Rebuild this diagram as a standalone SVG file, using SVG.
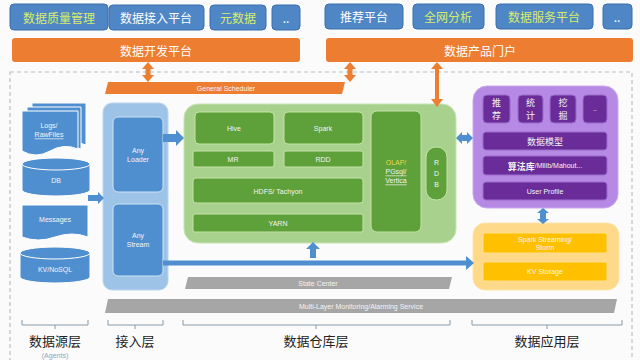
<svg xmlns="http://www.w3.org/2000/svg" width="640" height="360" viewBox="0 0 640 360">
<defs>
<style>
.btn{fill:#4f86c6;stroke:#3a6fae;stroke-width:1}
.bt{font-family:"Noto Sans CJK SC","Noto Sans",sans-serif;font-size:12px;text-anchor:middle;dominant-baseline:central}
.w{fill:#ffffff}
.yg{fill:#d8ec6a}
.org{fill:#ed7d31}
.sm{font-family:"Liberation Sans","Noto Sans",sans-serif;font-size:7px;fill:#f4f4f4;text-anchor:middle;dominant-baseline:central}
.cj{font-family:"Noto Sans CJK SC",sans-serif;font-size:9px}
.gin{fill:#5ea03a;stroke:#c5e3a8;stroke-width:1}
.pin{fill:#6a2c98;stroke:#9a6ccc;stroke-width:1}
.yin{fill:#ffc000;stroke:#ffe08a;stroke-width:1}
.src{fill:#4f8fd0;stroke:#ffffff;stroke-width:1}
.lbl{font-family:"Noto Sans CJK SC","Noto Sans",sans-serif;font-size:13px;fill:#222;text-anchor:middle;dominant-baseline:central}
.brk{fill:none;stroke:#8a9aa8;stroke-width:1}
.oarr{fill:#ed7d31}
.barr{fill:#4f8fd0}
</style>
</defs>
<rect x="0" y="0" width="640" height="360" fill="#fbfbfb"/>
<rect x="10" y="72" width="622" height="300" fill="none" stroke="#b8c0c8" stroke-width="1.2" stroke-dasharray="4,3"/>

<g id="top-buttons">
<g id="n-quality"><rect class="btn" x="10" y="4" width="98" height="26" rx="4"/><text class="bt yg" x="59" y="17">数据质量管理</text></g>
<g id="n-access-platform"><rect class="btn" x="109" y="5" width="95" height="25" rx="4"/><text class="bt w" x="156" y="17">数据接入平台</text></g>
<g id="n-meta"><rect class="btn" x="210" y="5" width="56" height="25" rx="4"/><text class="bt yg" x="238" y="17">元数据</text></g>
<g id="n-more1"><rect class="btn" x="272" y="5" width="28" height="25" rx="4"/><text class="bt w" x="286" y="17" font-size="8">..</text></g>
<g id="n-recommend"><rect class="btn" x="325" y="4" width="78" height="25" rx="4"/><text class="bt w" x="364" y="16">推荐平台</text></g>
<g id="n-analysis"><rect class="btn" x="413" y="4" width="71" height="25" rx="4"/><text class="bt yg" x="448" y="16">全网分析</text></g>
<g id="n-service"><rect class="btn" x="496" y="4" width="97" height="25" rx="4"/><text class="bt yg" x="544" y="16">数据服务平台</text></g>
<g id="n-more2"><rect class="btn" x="603" y="4" width="29" height="25" rx="4"/><text class="bt w" x="617" y="16" font-size="8">..</text></g>
</g>

<g id="n-devplatform"><rect class="org" x="12" y="38" width="288" height="24" rx="3"/><text class="bt w" x="156" y="50">数据开发平台</text></g>
<g id="n-portal"><rect class="org" x="326" y="38" width="307" height="24" rx="3"/><text class="bt w" x="480" y="50">数据产品门户</text></g>

<g id="n-scheduler"><polygon class="org" points="108,82 345,82 342,94 105,94"/><text class="sm" x="226" y="88">General Scheduler</text></g>

<g id="n-sources">
<g id="n-logs">
<path d="M32,103 h54 v42 q-14,-6 -27,0 t-27,0 z" fill="#4f8fd0" stroke="#fff" stroke-width="1"/>
<path d="M27,107 h54 v42 q-14,-6 -27,0 t-27,0 z" fill="#4f8fd0" stroke="#fff" stroke-width="1"/>
<path d="M22,111 h56 v38 q-14,-6 -28,2 t-28,0 z" fill="#4f8fd0" stroke="#fff" stroke-width="1"/>
<text class="sm" x="49" y="125">Logs/</text><text class="sm" x="49" y="134" text-decoration="underline">RawFiles</text>
</g>
<g id="n-db">
<path d="M22,164 v26 a34,6 0 0 0 68,0 v-26 z" class="src"/>
<ellipse cx="56" cy="164" rx="34" ry="6" class="src"/>
<text class="sm" x="56" y="180">DB</text>
</g>
<g id="n-messages">
<path d="M22,205 h66 v32 q-16,-6 -33,0 t-33,0 z" class="src"/>
<text class="sm" x="55" y="219">Messages</text>
</g>
<g id="n-kv">
<path d="M20,253 v24 a35,6 0 0 0 70,0 v-24 z" class="src"/>
<ellipse cx="55" cy="253" rx="35" ry="6" class="src"/>
<text class="sm" x="55" y="269">KV/NoSQL</text>
</g>
</g>

<g id="n-ingest">
<rect x="103" y="103" width="65" height="187" rx="9" fill="#9dc3e6" stroke="#b9d5ee" stroke-width="1"/>
<g id="n-anyloader"><rect x="113" y="117" width="50" height="75" rx="5" fill="#4f8fd0" stroke="#cfe2f3"/><text class="sm" x="138" y="150">Any</text><text class="sm" x="138" y="159">Loader</text></g>
<g id="n-anystream"><rect x="113" y="204" width="50" height="72" rx="5" fill="#4f8fd0" stroke="#cfe2f3"/><text class="sm" x="138" y="235">Any</text><text class="sm" x="138" y="244">Stream</text></g>
</g>

<g id="n-warehouse">
<rect x="184" y="104" width="272" height="139" rx="14" fill="#a9d18e" stroke="#c8e3b4" stroke-width="1"/>
<g id="n-hive"><rect class="gin" x="195" y="112" width="79" height="32" rx="4"/><text class="sm" x="234" y="128">Hive</text></g>
<g id="n-spark"><rect class="gin" x="284" y="112" width="79" height="32" rx="4"/><text class="sm" x="323" y="128">Spark</text></g>
<g id="n-mr"><rect class="gin" x="193" y="151" width="81" height="16" rx="2"/><text class="sm" x="233" y="159">MR</text></g>
<g id="n-rdd"><rect class="gin" x="284" y="151" width="79" height="16" rx="2"/><text class="sm" x="323" y="159">RDD</text></g>
<g id="n-hdfs"><rect class="gin" x="193" y="178" width="170" height="25" rx="3"/><text class="sm" x="278" y="191">HDFS/ Tachyon</text></g>
<g id="n-yarn"><rect class="gin" x="193" y="214" width="170" height="18" rx="2"/><text class="sm" x="278" y="223">YARN</text></g>
<g id="n-olap"><rect class="gin" x="371" y="111" width="50" height="121" rx="6"/>
<text class="sm" x="396" y="162" style="fill:#e8d84a">OLAP/</text>
<text class="sm" x="396" y="171" text-decoration="underline">PGsql/</text>
<text class="sm" x="396" y="180" text-decoration="underline">Vertica</text></g>
<g id="n-rdb"><rect class="gin" x="426" y="147" width="21" height="53" rx="10"/>
<text class="sm" x="436.5" y="162">R</text><text class="sm" x="436.5" y="173">D</text><text class="sm" x="436.5" y="184">B</text></g>
</g>

<g id="n-app">
<rect x="473" y="86" width="145" height="122" rx="14" fill="#b689e4" stroke="#c9a8ee" stroke-width="1"/>
<g id="n-rec"><rect class="pin" x="483" y="95" width="27" height="28" rx="4"/><text class="sm cj" x="496.5" y="102.5">推</text><text class="sm cj" x="496.5" y="115.5">荐</text></g>
<g id="n-stat"><rect class="pin" x="518" y="95" width="25" height="28" rx="4"/><text class="sm cj" x="530.5" y="102.5">统</text><text class="sm cj" x="530.5" y="115.5">计</text></g>
<g id="n-mine"><rect class="pin" x="550" y="95" width="26" height="28" rx="4"/><text class="sm cj" x="563" y="102.5">挖</text><text class="sm cj" x="563" y="115.5">掘</text></g>
<g id="n-more3"><rect class="pin" x="583" y="95" width="24" height="28" rx="4"/><text class="sm" x="595" y="108">..</text></g>
<g id="n-model"><rect class="pin" x="483" y="132" width="124" height="18" rx="3"/><text class="sm cj" x="545" y="141">数据模型</text></g>
<g id="n-algo"><rect class="pin" x="483" y="156" width="124" height="19" rx="3"/><text class="sm" x="545" y="165.5"><tspan class="cj" font-weight="bold">算法库</tspan>/Mllib/Mahout...</text></g>
<g id="n-profile"><rect class="pin" x="483" y="182" width="124" height="18" rx="3"/><text class="sm" x="545" y="191">User Profile</text></g>
</g>

<g id="n-realtime">
<rect x="473" y="223" width="146" height="67" rx="12" fill="#ffd98a" stroke="#ffe3a8" stroke-width="1"/>
<g id="n-sparkstreaming"><rect class="yin" x="483" y="233" width="124" height="20" rx="2"/><text class="sm" x="545" y="239">Spark Streaming/</text><text class="sm" x="545" y="247">Storm</text></g>
<g id="n-kvstorage"><rect class="yin" x="483" y="262" width="124" height="19" rx="2"/><text class="sm" x="545" y="271.5">KV Storage</text></g>
</g>

<g id="n-statecenter"><polygon points="188,277 452,277 449,289 185,289" fill="#a6a6a6"/><text class="sm" x="318" y="283">State Center</text></g>
<g id="n-monitoring"><polygon points="108,299 617,299 614,313 105,313" fill="#a6a6a6"/><text class="sm" x="361" y="306">Multi-Layer Monitoring/Alarming Service</text></g>

<g id="connectors">
<polygon class="oarr" points="148,62 154,69 150.5,69 150.5,75 154,75 148,82 142,75 145.5,75 145.5,69 142,69"/>
<polygon class="oarr" points="350,62 356,69 352.5,69 352.5,75 356,75 350,82 344,75 347.5,75 347.5,69 344,69"/>
<polygon class="oarr" points="437,62 443,69 439,69 439,99 443,99 437,107 431,99 435,99 435,69 431,69"/>
<polygon class="barr" points="88,195 98,195 98,192 104,198 98,204 98,201 88,201"/>
<polygon class="barr" points="163,134 176,134 176,130 184,138 176,146 176,142 163,142"/>
<polygon class="barr" points="456,138 462,132 462,135 467,135 467,132 473,138 467,144 467,141 462,141 462,144"/>
<polygon class="barr" points="313,242 320,249 316,249 316,258 310,258 310,249 306,249"/>
<polygon class="barr" points="163,260.5 466,260.5 466,256 474,263 466,270 466,265.5 163,265.5"/>
<polygon class="barr" points="543,208 549,213 546,213 546,219 549,219 543,224 537,219 540,219 540,213 537,213"/>
</g>

<g id="layer-labels">
<g id="lbl-source"><path class="brk" d="M22,320 v5 h66 v-5 M55,325 v4"/><text class="lbl" x="55" y="340">数据源层</text><text class="sm" x="55" y="355" style="fill:#8aa6c8">(Agents)</text></g>
<g id="lbl-ingest"><path class="brk" d="M108,320 v5 h55 v-5 M135,325 v4"/><text class="lbl" x="135" y="340">接入层</text></g>
<g id="lbl-warehouse"><path class="brk" d="M183,320 v5 h267 v-5 M316,325 v4"/><text class="lbl" x="316" y="340">数据仓库层</text></g>
<g id="lbl-app"><path class="brk" d="M472,320 v5 h150 v-5 M547,325 v4"/><text class="lbl" x="547" y="340">数据应用层</text></g>
</g>
</svg>
